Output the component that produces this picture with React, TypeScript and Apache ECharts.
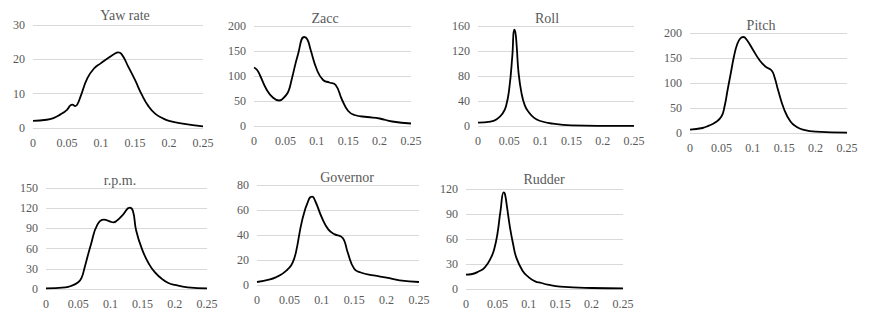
import React, { useEffect, useRef } from "react";
import * as echarts from "echarts";

// ---- Data (frequency vs spectral value) ----
const yawX = [0, 0.02, 0.03, 0.04, 0.05, 0.055, 0.058, 0.062, 0.065, 0.07, 0.08, 0.09, 0.1, 0.11, 0.12, 0.125, 0.13, 0.14, 0.15, 0.16, 0.17, 0.18, 0.19, 0.2, 0.22, 0.25];
const yawY = [2.1, 2.4, 2.9, 3.9, 5.3, 6.6, 6.8, 6.4, 6.8, 9.2, 14.5, 17.4, 18.9, 20.3, 21.6, 22, 21.6, 17.9, 14, 9.7, 6.3, 4.1, 2.9, 2.1, 1.3, 0.5];

const zaccX = [0, 0.005, 0.01, 0.02, 0.03, 0.04, 0.05, 0.055, 0.06, 0.07, 0.08, 0.085, 0.09, 0.1, 0.11, 0.12, 0.13, 0.14, 0.15, 0.16, 0.18, 0.2, 0.22, 0.25];
const zaccY = [117, 112, 100, 73, 57, 51, 60, 70, 93, 143, 178, 173, 153, 113, 92, 87, 82, 53, 30, 22, 18, 15, 9, 5];

const rollX = [0, 0.02, 0.03, 0.04, 0.045, 0.05, 0.055, 0.058, 0.06, 0.062, 0.065, 0.07, 0.075, 0.08, 0.09, 0.1, 0.12, 0.15, 0.2, 0.25];
const rollY = [5.3, 7, 10.7, 21, 32, 59, 112, 154, 149, 128, 85, 51, 33, 24, 13, 8, 3.7, 1, 0.2, 0.1];

const pitchX = [0, 0.02, 0.03, 0.04, 0.05, 0.055, 0.06, 0.065, 0.07, 0.075, 0.08, 0.085, 0.09, 0.1, 0.11, 0.12, 0.13, 0.135, 0.14, 0.15, 0.16, 0.17, 0.18, 0.2, 0.25];
const pitchY = [6.7, 10, 14.7, 21, 33, 53, 87, 120, 153, 177, 189, 192, 187, 167, 147, 133, 125, 110, 87, 47, 23, 12, 6.7, 2.7, 0.7];

const rpmX = [0, 0.03, 0.04, 0.05, 0.055, 0.06, 0.07, 0.08, 0.09, 0.1, 0.105, 0.11, 0.12, 0.13, 0.135, 0.14, 0.15, 0.16, 0.17, 0.18, 0.19, 0.2, 0.22, 0.25];
const rpmY = [1, 2.5, 5, 10, 16, 32, 67, 96, 103, 100, 99, 101.5, 111, 121, 116, 87, 57, 37, 24, 15, 9, 6, 2.5, 1];

const govX = [0, 0.02, 0.03, 0.04, 0.05, 0.055, 0.06, 0.07, 0.08, 0.085, 0.09, 0.1, 0.11, 0.12, 0.13, 0.135, 0.14, 0.15, 0.16, 0.18, 0.2, 0.22, 0.25];
const govY = [2.4, 4.5, 6.4, 9.3, 13.9, 17.9, 25.9, 52.5, 68.5, 70.7, 67, 54, 44.5, 40.5, 38.7, 35, 26, 13, 10, 7.7, 5.9, 3.7, 2.4];

const rudX = [0, 0.01, 0.02, 0.03, 0.04, 0.045, 0.05, 0.055, 0.06, 0.062, 0.065, 0.07, 0.075, 0.08, 0.09, 0.1, 0.11, 0.12, 0.13, 0.15, 0.2, 0.25];
const rudY = [17.2, 18, 21, 26, 38, 48, 66, 94, 116, 114, 100, 74, 54, 38, 22, 14, 9.2, 7.2, 5.2, 2.8, 1.2, 0.8];

const titles = ["Yaw rate", "Zacc", "Roll", "Pitch", "r.p.m.", "Governor", "Rudder"];
const xs = [yawX, zaccX, rollX, pitchX, rpmX, govX, rudX];
const ys = [yawY, zaccY, rollY, pitchY, rpmY, govY, rudY];
const yMax = [30, 200, 160, 200, 150, 80, 120];
const yInterval = [10, 50, 40, 50, 30, 20, 30];
const xTickStep = 0.05;
const xMaxValue = 0.25;

// ---- Layout ----
const layout = [
  { left: 33, top: 25, width: 170, height: 103, tx: 125, ty: 15, xm: 9 },
  { left: 254, top: 26, width: 157, height: 100, tx: 325, ty: 18, xm: 9 },
  { left: 478, top: 26, width: 156, height: 100, tx: 547, ty: 18, xm: 9 },
  { left: 690, top: 33, width: 157, height: 100, tx: 761, ty: 25, xm: 9 },
  { left: 46, top: 188, width: 161, height: 101, tx: 120, ty: 180, xm: 9 },
  { left: 257, top: 185, width: 162, height: 100, tx: 347, ty: 177, xm: 9 },
  { left: 466, top: 189, width: 157, height: 100, tx: 544, ty: 179, xm: 9 },
];

const FONT = "Liberation Serif";
const TEXT = "#595959";

export default function App() {
  const ref = useRef<HTMLDivElement>(null);
  useEffect(() => {
    if (!ref.current) return;
    const chart = echarts.init(ref.current, undefined, { renderer: "svg" });
    const grid = layout.map((l) => ({ left: l.left, top: l.top, width: l.width, height: l.height, containLabel: false }));
    const xAxis = layout.map((l, i) => ({
      type: "value",
      gridIndex: i,
      min: 0,
      max: xMaxValue,
      interval: xTickStep,
      axisLine: { show: false },
      axisTick: { show: false },
      splitLine: { show: false },
      axisLabel: { color: TEXT, fontFamily: FONT, fontSize: 12, margin: l.xm, showMaxLabel: true, showMinLabel: true },
    }));
    const yAxis = layout.map((l, i) => ({
      type: "value",
      gridIndex: i,
      min: 0,
      max: yMax[i],
      interval: yInterval[i],
      axisLine: { show: false },
      axisTick: { show: false },
      splitLine: { show: true, lineStyle: { color: "#d9d9d9", width: 1 } },
      axisLabel: { color: TEXT, fontFamily: FONT, fontSize: 12, margin: 8 },
    }));
    const series = titles.map((t, i) => ({
      type: "line",
      name: t,
      xAxisIndex: i,
      yAxisIndex: i,
      data: xs[i].map((x, j) => [x, ys[i][j]]),
      smooth: 0.5,
      showSymbol: false,
      symbol: "none",
      lineStyle: { color: "#000", width: 1.8 },
    }));
    const graphic = layout.map((l, i) => ({
      type: "text",
      x: l.tx,
      y: l.ty,
      style: {
        text: titles[i],
        fill: TEXT,
        fontFamily: FONT,
        fontSize: 14,
        textAlign: "center",
        textVerticalAlign: "middle",
      },
    }));
    chart.setOption({ animation: false, backgroundColor: "#fff", grid, xAxis, yAxis, series, graphic } as any);
    return () => chart.dispose();
  }, []);
  return <div ref={ref} style={{ position: "fixed", left: 0, top: 0, width: 872, height: 318 }} />;
}
